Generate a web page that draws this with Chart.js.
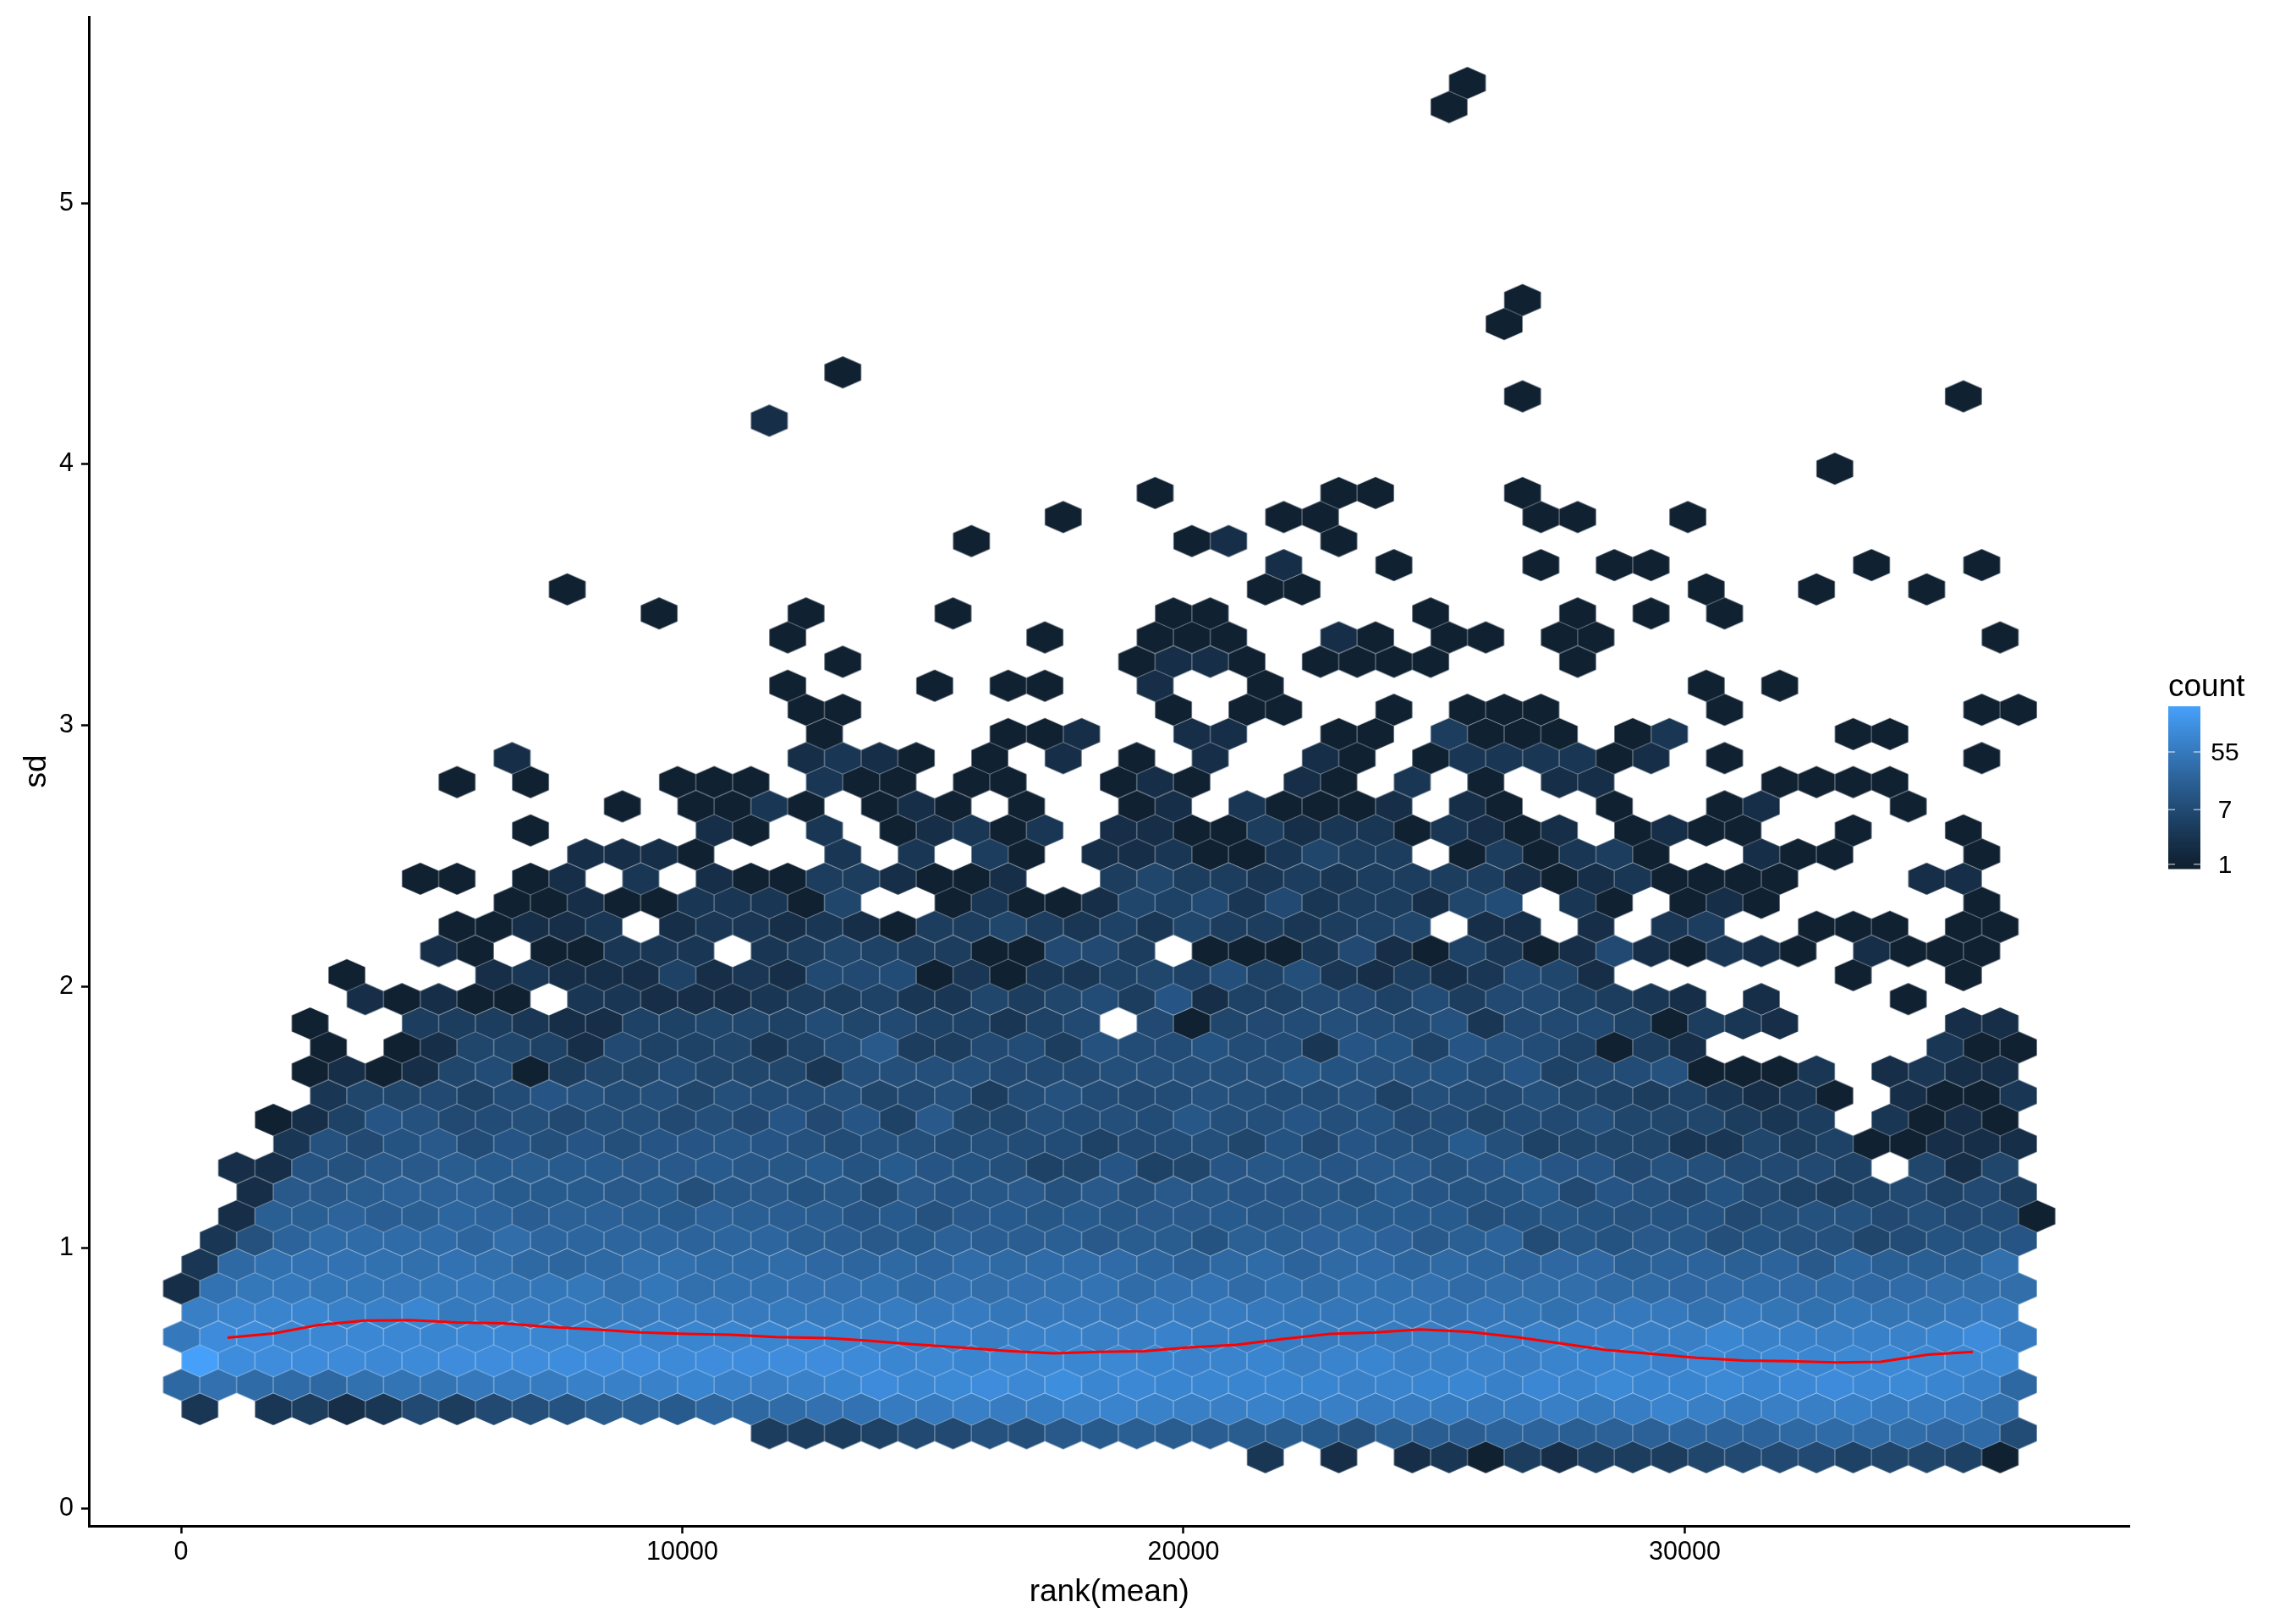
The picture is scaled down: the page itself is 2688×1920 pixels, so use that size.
<!DOCTYPE html>
<html>
<head>
<meta charset="utf-8">
<script src="https://cdn.jsdelivr.net/npm/chart.js@4"></script>
<style>
html, body { margin: 0; padding: 0; background: #fff; }
canvas { display: block; }
</style>
</head>
<body>
<canvas id="myChart" width="2688" height="1920"></canvas>
<script>
// hex centres, half-column by half-column
var colRank = [8,375,741,1108,1474,1841,2207,2574,2940,3307,3673,4040,4406,4773,5139,5506,5872,6239,6605,6972,7338,7705,8071,8438,8804,9171,9537,9904,10270,10637,11003,11370,11736,12103,12469,12836,13202,13569,13935,14302,14668,15035,15401,15768,16134,16501,16867,17234,17600,17967,18333,18700,19066,19433,19799,20166,20532,20899,21265,21632,21998,22365,22731,23098,23464,23831,24197,24564,24930,25297,25663,26030,26396,26763,27129,27496,27862,28229,28595,28962,29328,29695,30061,30428,30794,31161,31527,31894,32260,32627,32993,33360,33726,34093,34459,34826,35192,35559,35925,36292,36658,37025,37391];
var rowSd = [0.198,0.290,0.382,0.475,0.567,0.659,0.752,0.844,0.936,1.029,1.121,1.213,1.306,1.398,1.490,1.582,1.675,1.767,1.859,1.952,2.044,2.136,2.229,2.321,2.413,2.506,2.598,2.690,2.783,2.875,2.967,3.060,3.152,3.244,3.337,3.429,3.521,3.614,3.706,3.798,3.890,3.983,4.075,4.167,4.260,4.352,4.444,4.537,4.629,4.721,4.814,4.906,4.998,5.091,5.183,5.275,5.368,5.460];

// first half-column of each row, then counts every second half-column (0 = empty)
var rowFirst = [59,32,1,0,1,0,1,0,1,2,3,4,3,6,5,8,7,8,7,10,9,14,15,18,13,22,19,24,15,18,35,34,33,36,33];
var rowCounts = [
[3,0,2,0,2,3,1,4,2,4,4,4,6,7,7,7,5,6,6,5,1],
[4,4,4,5,7,7,10,9,14,15,18,16,17,16,16,15,10,18,17,17,22,22,18,20,20,25,22,22,28,30,32,32,26,30,8],
[3,0,3,4,2,3,7,4,7,9,11,16,18,15,25,27,30,38,42,60,60,70,62,65,80,85,80,70,70,80,65,70,62,62,60,55,60,70,58,65,85,72,60,70,70,75,60,62,60,35],
[27,38,30,30,27,40,45,45,55,60,60,75,75,80,90,75,70,80,90,120,95,110,125,105,135,95,105,90,95,90,90,90,80,85,90,95,75,100,85,110,90,90,110,90,105,120,105,110,90,75,27],
[281,130,125,120,115,105,115,125,125,125,130,125,125,115,125,125,125,125,115,96,102,90,102,102,96,102,90,84,86,90,72,86,90,75,75,78,72,86,90,96,82,108,90,108,96,102,108,102,102,108],
[55,120,125,100,100,100,100,90,100,100,95,90,95,85,90,90,90,96,90,75,75,82,67,75,80,70,72,82,67,65,65,62,66,62,70,67,67,75,75,75,70,72,94,80,75,70,75,78,90,120,60],
[70,85,85,90,75,75,95,58,62,62,62,58,56,60,56,56,58,55,55,62,55,60,50,53,53,48,53,53,60,54,50,48,50,50,43,48,46,40,48,53,53,40,55,46,40,50,46,46,53,62],
[2,42,52,55,50,50,48,52,55,46,50,52,36,50,36,40,40,38,38,40,30,38,34,38,41,43,32,38,42,31,40,32,41,40,38,31,34,34,34,29,29,26,31,30,31,30,26,31,34,34,34],
[3,28,40,42,42,40,36,42,36,28,24,28,36,36,30,30,32,26,24,28,24,32,29,30,32,31,25,20,28,30,22,29,31,25,29,25,22,26,26,18,22,22,19,22,14,24,18,18,18,36],
[3,10,22,30,30,30,30,24,33,24,24,24,24,22,24,24,18,17,14,15,20,17,17,18,14,16,16,11,19,18,21,24,21,14,18,22,8,13,11,14,13,9,11,10,10,6,8,11,11,12],
[2,18,18,22,17,18,25,22,17,20,20,18,15,20,18,17,16,12,15,10,14,15,13,15,13,14,14,15,13,14,16,15,15,15,9,11,13,11,10,11,11,7,9,10,10,7,9,7,8,1],
[2,14,14,16,20,20,20,15,15,15,14,15,9,13,14,11,13,8,14,12,13,14,10,14,10,14,13,12,12,13,11,15,12,11,11,15,7,12,10,7,11,7,5,4,5,7,5,7,4],
[2,2,11,10,14,14,16,15,16,15,15,14,14,15,13,13,15,11,15,12,11,9,5,6,12,5,6,12,13,13,12,14,14,10,12,15,12,12,7,10,9,7,7,7,5,0,6,2,6],
[3,10,7,11,14,8,12,9,12,9,12,12,13,12,10,8,10,9,8,9,8,8,5,7,8,9,6,11,7,12,10,9,15,9,5,6,6,6,3,3,6,4,5,1,1,2,2,2],
[1,2,5,12,10,7,8,9,7,9,9,7,9,7,12,7,12,5,14,6,6,9,8,9,8,13,9,9,12,9,11,7,8,6,8,7,9,6,6,6,4,3,4,0,3,1,2,1],
[3,6,6,7,5,8,12,10,8,9,6,9,8,8,9,6,7,9,4,8,10,8,7,8,10,9,8,8,10,5,9,8,7,9,6,5,4,5,3,2,3,1,0,2,1,1,3],
[1,2,1,2,6,8,1,4,6,6,8,6,6,6,3,9,9,9,9,7,7,7,9,9,9,9,9,13,11,10,10,11,8,12,5,7,8,10,1,1,1,3,0,2,3,2,2],
[1,0,1,2,6,6,5,2,7,5,5,6,3,5,8,14,4,4,7,8,4,10,8,8,11,8,8,3,12,11,5,12,10,8,5,1,4,2,0,0,0,0,0,0,3,1,1],
[1,0,0,4,4,4,3,2,2,5,5,6,6,5,8,6,7,5,5,3,5,7,0,7,1,6,7,8,9,8,7,10,3,7,7,7,5,1,4,3,2,0,0,0,0,2,2],
[2,1,2,1,1,0,3,3,2,2,2,3,4,4,5,3,3,6,4,6,8,4,12,2,5,5,7,7,5,8,4,7,7,5,4,3,2,0,2,0,0,0,1],
[1,0,0,0,2,3,2,2,2,5,2,3,2,7,7,8,1,3,1,3,3,5,6,5,9,5,9,3,2,4,2,3,7,6,2,0,0,0,0,0,0,1,0,0,1],
[2,1,0,1,1,3,3,3,0,3,4,6,5,4,4,1,1,7,7,4,0,1,1,1,3,7,2,1,5,3,1,2,7,2,1,3,2,1,0,2,1,1,1],
[1,1,2,2,3,0,2,3,3,2,3,2,1,4,4,6,4,3,5,3,6,4,4,3,4,5,6,0,2,2,0,2,0,3,4,0,0,1,1,1,0,1,1],
[1,1,2,1,1,3,3,3,1,6,0,0,1,3,1,1,2,6,5,7,3,7,3,4,4,2,6,8,0,3,1,0,1,2,1,0,0,0,0,0,1],
[1,1,0,1,2,0,3,0,2,1,1,4,4,2,1,1,2,0,0,4,6,4,4,3,4,3,4,4,4,4,2,1,2,3,1,1,1,1,0,0,0,2,2],
[2,2,2,1,0,0,0,3,0,3,0,4,1,0,2,2,3,1,1,3,6,4,4,0,1,4,1,3,4,1,0,0,2,1,1,0,0,0,1],
[1,0,0,0,0,2,1,0,3,0,1,2,3,1,3,0,2,2,1,1,4,2,3,3,1,3,2,1,2,0,1,2,1,1,0,0,1,0,0,1],
[1,0,1,1,3,1,0,1,2,1,0,1,0,0,1,2,0,3,1,1,1,2,0,2,1,0,0,1,0,0,1,2,0,0,0,1],
[1,0,1,0,0,0,1,1,1,0,3,1,1,0,1,1,0,0,1,2,1,0,0,2,1,0,3,0,1,0,2,2,0,0,0,0,1,1,1,1],
[2,0,0,0,0,0,0,0,2,3,2,1,0,1,0,2,0,1,0,2,0,0,2,1,0,1,3,3,3,3,1,2,0,1,0,0,0,0,0,0,1],
[1,0,0,0,0,1,1,2,0,0,2,2,0,0,1,1,0,4,1,1,1,0,1,3,0,0,0,0,1,1],
[1,1,0,0,0,0,0,0,0,0,1,0,1,1,0,0,1,0,1,1,1,0,0,0,0,1,0,0,0,0,0,0,1,1],
[1,0,0,0,1,0,1,1,0,0,2,0,0,1,0,0,0,0,0,0,0,0,0,0,0,1,0,1],
[1,0,0,0,0,0,0,0,1,2,2,1,0,1,1,1,1,0,0,0,1],
[1,0,0,0,0,0,0,1,0,0,1,1,1,0,0,2,1,0,1,1,0,1,1,0,0,0,0,0,0,0,0,0,0,1]
];

// lone hexes above the main cloud
var topRow =   [35,35,35,35,35,35,35,35,35,36,36,36,36,36,36,37,37,37,37,37,37,37,38,38,38,38,39,39,39,39,39,39,40,40,40,40,41,43,44,44,45,47,48,56,57];
var topCol =   [26,34,42,54,56,68,76,80,84,21,59,61,83,89,95,60,66,74,78,80,92,98,43,55,57,63,48,60,62,74,76,82,53,63,65,73,90,32,73,97,36,72,73,69,70];
var topCount = [1,1,1,1,1,1,1,1,1,1,1,1,1,1,1,2,1,1,1,1,1,1,1,1,2,1,1,1,1,1,1,1,1,1,1,1,1,2,1,1,1,1,1,1,1];

// red trend line
var trendRank = [928,1845,2745,3663,4586,5502,6427,7325,8250,9165,10068,10967,11865,12908,13644,14543,15525,16506,17408,18307,19207,20106,21046,21988,22930,23829,24726,25688,26630,27527,28429,29330,30228,31170,32068,33013,33907,34852,35747];
var trendSd = [0.656,0.672,0.704,0.721,0.723,0.714,0.711,0.697,0.687,0.676,0.670,0.667,0.658,0.654,0.645,0.631,0.618,0.605,0.596,0.601,0.604,0.618,0.628,0.651,0.670,0.676,0.687,0.678,0.658,0.634,0.609,0.594,0.579,0.568,0.566,0.561,0.563,0.591,0.601];

var xTicks = [0,10000,20000,30000];
var yTicks = [0,1,2,3,4,5];
var legendTicks = [1,7,55];
var maxCount = 281;

var fontName = '"Liberation Sans", Arial, sans-serif';

function countColor(n) {
    var t = Math.log10(n) / Math.log10(maxCount);
    if (t < 0) t = 0;
    t = Math.pow(t, 1.08);
    var r = Math.round(16 + (70 - 16) * t);
    var g = Math.round(33 + (160 - 33) * t);
    var b = Math.round(50 + (250 - 50) * t);
    return 'rgb(' + r + ',' + g + ',' + b + ')';
}

var sprites = {};
function hexSprite(n) {
    if (sprites[n]) return sprites[n];
    var c = document.createElement('canvas');
    c.width = 46;
    c.height = 40;
    var g = c.getContext('2d');
    g.translate(23, 20);
    g.beginPath();
    g.moveTo(0, -19);
    g.lineTo(21.7, -9.5);
    g.lineTo(21.7, 9.5);
    g.lineTo(0, 19);
    g.lineTo(-21.7, 9.5);
    g.lineTo(-21.7, -9.5);
    g.closePath();
    g.fillStyle = countColor(n);
    g.fill();
    g.lineWidth = 1;
    g.strokeStyle = 'rgba(255,255,255,0.13)';
    g.stroke();
    sprites[n] = c;
    return c;
}

var hexPoints = [];
for (var k = 0; k < rowCounts.length; k++) {
    for (var i = 0; i < rowCounts[k].length; i++) {
        if (rowCounts[k][i] > 0) {
            hexPoints.push({ x: colRank[rowFirst[k] + i * 2], y: rowSd[k], count: rowCounts[k][i] });
        }
    }
}
for (var j = 0; j < topRow.length; j++) {
    hexPoints.push({ x: colRank[topCol[j]], y: rowSd[topRow[j]], count: topCount[j] });
}

var trendPoints = [];
for (var p = 0; p < trendRank.length; p++) {
    trendPoints.push({ x: trendRank[p], y: trendSd[p] });
}

// colour bar on the right
var colourBar = {
    id: 'colourBar',
    afterDraw: function (chart) {
        var ctx = chart.ctx;
        var left = 2563, right = 2601, top = 835, bottom = 1026.7;
        var unit = 76.3;
        var zero = 1021.7;
        ctx.save();
        for (var y = top; y < bottom; y += 1) {
            var v = Math.pow(10, (zero - y) / unit);
            ctx.fillStyle = countColor(Math.max(v, 1));
            ctx.fillRect(left, y, right - left, 1.5);
        }
        ctx.strokeStyle = 'rgba(255,255,255,0.6)';
        ctx.lineWidth = 1.5;
        ctx.fillStyle = '#000';
        ctx.font = '30px ' + fontName;
        ctx.textAlign = 'center';
        ctx.textBaseline = 'middle';
        legendTicks.forEach(function (t) {
            var ty = zero - Math.log10(t) * unit;
            ctx.beginPath();
            ctx.moveTo(left, ty);
            ctx.lineTo(left + 8, ty);
            ctx.moveTo(right - 8, ty);
            ctx.lineTo(right, ty);
            ctx.stroke();
            ctx.fillText(String(t), 2630, ty + 2);
        });
        ctx.font = '37px ' + fontName;
        ctx.textAlign = 'left';
        ctx.textBaseline = 'alphabetic';
        ctx.fillText('count', 2563, 823);
        ctx.restore();
    }
};

var ctx = document.getElementById('myChart').getContext('2d');
var myChart = new Chart(ctx, {
    type: 'scatter',
    data: {
        datasets: [
            {
                label: 'trend',
                type: 'line',
                data: trendPoints,
                borderColor: '#ff0000',
                borderWidth: 3,
                pointRadius: 0,
                tension: 0,
                fill: false,
                order: 0
            },
            {
                label: 'count',
                data: hexPoints,
                pointStyle: function (c) { return hexSprite(c.raw.count); },
                pointRadius: 3,
                order: 1
            }
        ]
    },
    options: {
        responsive: false,
        animation: false,
        devicePixelRatio: 1,
        layout: { padding: { top: 20, right: 170.5, left: 0, bottom: 0 } },
        plugins: { legend: { display: false }, tooltip: { enabled: false } },
        scales: {
            x: {
                type: 'linear',
                min: -1840,
                max: 38878,
                afterBuildTicks: function (s) { s.ticks = xTicks.map(function (v) { return { value: v }; }); },
                afterFit: function (s) { s.height = 116; s.paddingLeft = 0; s.paddingRight = 0; },
                border: { color: '#000', width: 3 },
                grid: { drawOnChartArea: false, tickColor: '#000', tickWidth: 2.5, tickLength: 9 },
                ticks: {
                    color: '#000',
                    font: { family: fontName, size: 30.5 },
                    padding: 4,
                    maxRotation: 0,
                    autoSkip: false,
                    callback: function (v) { return String(v); }
                },
                title: {
                    display: true,
                    text: 'rank(mean)',
                    color: '#000',
                    font: { family: fontName, size: 37 },
                    padding: { top: 0, bottom: 15 }
                }
            },
            y: {
                type: 'linear',
                min: -0.065,
                max: 5.713,
                afterBuildTicks: function (s) { s.ticks = yTicks.map(function (v) { return { value: v }; }); },
                afterFit: function (s) { s.width = 105; s.paddingTop = 0; s.paddingBottom = 0; },
                border: { color: '#000', width: 3 },
                grid: { drawOnChartArea: false, tickColor: '#000', tickWidth: 2.5, tickLength: 9 },
                ticks: {
                    color: '#000',
                    font: { family: fontName, size: 30.5 },
                    padding: 9,
                    autoSkip: false,
                    callback: function (v) { return String(v); }
                },
                title: {
                    display: true,
                    text: 'sd',
                    color: '#000',
                    font: { family: fontName, size: 37 },
                    padding: { top: 22, bottom: 0 }
                }
            }
        }
    },
    plugins: [colourBar]
});
</script>
</body>
</html>
